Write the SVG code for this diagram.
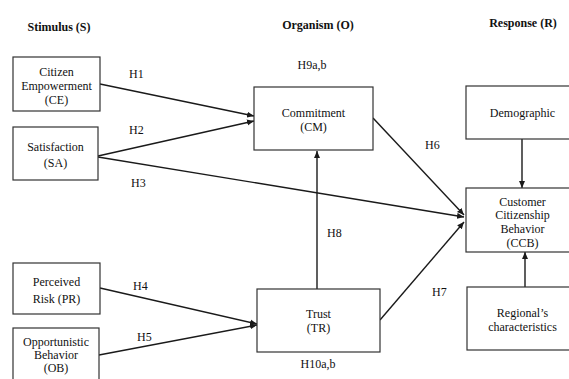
<svg xmlns="http://www.w3.org/2000/svg" width="569" height="379" viewBox="0 0 569 379">
  <style>
    .box { fill: #ffffff; stroke: #333333; stroke-width: 1.2; }
    text { font-family: "Liberation Serif", "DejaVu Serif", serif; font-size: 12px; fill: #111111; }
    .t { text-anchor: middle; }
    .head { font-weight: bold; text-anchor: middle; }
    .link { stroke: #1a1a1a; stroke-width: 1.4; fill: none; marker-end: url(#arrow); }
  </style>
  <defs>
    <marker id="arrow" markerUnits="userSpaceOnUse" markerWidth="8" markerHeight="7" refX="7" refY="3.5" orient="auto">
      <path d="M0,0.5 L7,3.5 L0,6.5 Z" fill="#1a1a1a"/>
    </marker>
  </defs>
  <rect width="569" height="379" fill="#ffffff"/>

  <!-- column headings -->
  <text class="head" x="59" y="31">Stimulus (S)</text>
  <text class="head" x="318" y="29">Organism (O)</text>
  <text class="head" x="523" y="27">Response (R)</text>

  <!-- connectors -->
  <g id="connectors">
    <line class="link" x1="100" y1="84" x2="254" y2="116"/>
    <line class="link" x1="98" y1="156" x2="254" y2="121"/>
    <line class="link" x1="98" y1="157" x2="464" y2="217"/>
    <line class="link" x1="100" y1="288" x2="257" y2="324"/>
    <line class="link" x1="99" y1="355" x2="257" y2="325"/>
    <line class="link" x1="373" y1="118" x2="464" y2="215"/>
    <line class="link" x1="380" y1="320" x2="464" y2="222"/>
    <line class="link" x1="317" y1="289" x2="317" y2="151"/>
    <line class="link" x1="522" y1="139" x2="522" y2="188"/>
    <line class="link" x1="525" y1="287" x2="525" y2="252"/>
  </g>

  <!-- hypothesis labels -->
  <g id="labels">
    <text class="t" x="312" y="69">H9a,b</text>
    <text x="129" y="78">H1</text>
    <text x="129" y="134">H2</text>
    <text x="131" y="187">H3</text>
    <text x="133" y="290">H4</text>
    <text x="137" y="341">H5</text>
    <text x="425" y="149">H6</text>
    <text x="432" y="296">H7</text>
    <text x="327" y="237">H8</text>
    <text class="t" x="318" y="368">H10a,b</text>
  </g>

  <g id="CE">
    <rect class="box" x="13" y="57" width="87" height="54"/>
    <text class="t" x="56.5" y="76">Citizen</text>
    <text class="t" x="56.5" y="90">Empowerment</text>
    <text class="t" x="56.5" y="104">(CE)</text>
  </g>
  <g id="SA">
    <rect class="box" x="13" y="127" width="85" height="53"/>
    <text class="t" x="55.5" y="151">Satisfaction</text>
    <text class="t" x="55.5" y="167">(SA)</text>
  </g>
  <g id="PR">
    <rect class="box" x="13" y="263" width="87" height="51"/>
    <text class="t" x="56.5" y="286">Perceived</text>
    <text class="t" x="56.5" y="303">Risk (PR)</text>
  </g>
  <g id="OB">
    <rect class="box" x="13" y="328" width="86" height="60"/>
    <text class="t" x="56" y="346">Opportunistic</text>
    <text class="t" x="56" y="359">Behavior</text>
    <text class="t" x="56" y="372">(OB)</text>
  </g>
  <g id="CM">
    <rect class="box" x="254" y="87" width="119" height="63"/>
    <text class="t" x="313.5" y="117">Commitment</text>
    <text class="t" x="313.5" y="131">(CM)</text>
  </g>
  <g id="TR">
    <rect class="box" x="257" y="289" width="123" height="63"/>
    <text class="t" x="318.5" y="318">Trust</text>
    <text class="t" x="318.5" y="332">(TR)</text>
  </g>
  <g id="Demographic">
    <rect class="box" x="466" y="86" width="113" height="53"/>
    <text class="t" x="522.5" y="117">Demographic</text>
  </g>
  <g id="CCB">
    <rect class="box" x="466" y="188" width="113" height="64"/>
    <text class="t" x="522.5" y="206">Customer</text>
    <text class="t" x="522.5" y="219">Citizenship</text>
    <text class="t" x="522.5" y="233">Behavior</text>
    <text class="t" x="522.5" y="247">(CCB)</text>
  </g>
  <g id="Regional">
    <rect class="box" x="467" y="287" width="112" height="63"/>
    <text class="t" x="522.5" y="317">Regional’s</text>
    <text class="t" x="522.5" y="331">characteristics</text>
  </g>
</svg>
